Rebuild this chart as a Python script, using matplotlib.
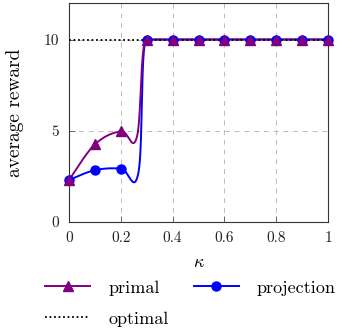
import numpy as np
import matplotlib
matplotlib.use("Agg")
import matplotlib.pyplot as plt
from matplotlib.lines import Line2D

plt.rcParams["font.family"] = ["cmr10", "DejaVu Serif"]
plt.rcParams["mathtext.fontset"] = "cm"
plt.rcParams["axes.formatter.use_mathtext"] = True

# ── data ─────────────────────────────────────────────────────────────────────
kappa = [0.0, 0.1, 0.2, 0.262, 0.3, 0.4, 0.5, 0.6, 0.7, 0.8, 0.9, 1.0]
primal = [2.3, 4.25, 4.97, 4.65, 10, 10, 10, 10, 10, 10, 10, 10]
kappa_proj = [0.0, 0.1, 0.2, 0.268, 0.3, 0.4, 0.5, 0.6, 0.7, 0.8, 0.9, 1.0]
projection = [2.3, 2.84, 2.93, 2.7, 10, 10, 10, 10, 10, 10, 10, 10]
optimal_x = [0.0, 1.0]
optimal = [10, 10]
# points drawn with a marker (the dip sample has none)
marked = [0, 1, 2, 4, 5, 6, 7, 8, 9, 10, 11]


def smooth(x, y, tension=0.55, n=60):
    """Cubic Bezier through the points; tangent flattened next to a plateau."""
    p = np.column_stack([x, y]).astype(float)
    m = len(p)
    tang = np.zeros_like(p)
    for i in range(m):
        a, b = p[max(i - 1, 0)], p[min(i + 1, m - 1)]
        tang[i] = (b - a) * tension / 3
        flat_l = i > 0 and p[i - 1, 1] == p[i, 1]
        flat_r = i < m - 1 and p[i + 1, 1] == p[i, 1]
        if flat_l or flat_r:
            tang[i, 1] = 0
    out = []
    for i in range(m - 1):
        p1, p2 = p[i], p[i + 1]
        c1 = p1 + tang[i]
        c2 = p2 - tang[i + 1]
        t = np.linspace(0, 1, n)[:, None]
        out.append((1 - t) ** 3 * p1 + 3 * (1 - t) ** 2 * t * c1
                   + 3 * (1 - t) * t ** 2 * c2 + t ** 3 * p2)
    seg = np.vstack(out)
    return seg[:, 0], seg[:, 1]


fig = plt.figure(figsize=(3.51, 3.36), dpi=100)
ax = fig.add_axes([69 / 351, 1 - 222 / 336, 259 / 351, 219 / 336])

purple = "#800080"
blue = "#0000ff"

sx, sy = smooth(kappa_proj, projection)
ax.plot(sx, sy, color=blue, lw=1.4, zorder=3)
sx, sy = smooth(kappa, primal)
ax.plot(sx, sy, color=purple, lw=1.4, zorder=4)
ax.plot(optimal_x, optimal, color="black", lw=1.3, ls=(0, (1, 1.5)), zorder=5)

ax.plot([kappa_proj[i] for i in marked], [projection[i] for i in marked],
        ls="none", marker="o", ms=6.5, color=blue, zorder=6, clip_on=False)
ax.plot([kappa[i] for i in marked], [primal[i] for i in marked],
        ls="none", marker="^", ms=6.5, color=purple, zorder=7, clip_on=False)

ax.set_xlim(0, 1)
ax.set_ylim(0, 12)
ax.set_xticks([0, 0.2, 0.4, 0.6, 0.8, 1])
ax.set_xticklabels(["0", "0.2", "0.4", "0.6", "0.8", "1"])
ax.set_yticks([0, 5, 10])
ax.set_yticklabels(["0", "5", "10"])
ax.tick_params(direction="in", length=4, width=0.6, color="#555555",
               labelsize=11, pad=7, labelcolor="#222222")
ax.grid(True, ls=(0, (5, 5)), color="#bbbbbb", lw=0.7)
ax.set_axisbelow(True)
for s in ax.spines.values():
    s.set_linewidth(0.8)
    s.set_color("#333333")

ax.set_xlabel(r"$\kappa$", fontsize=13, labelpad=7)
ax.set_ylabel("average reward", fontsize=14, labelpad=14)

handles = [
    Line2D([], [], color=purple, lw=1.4, marker="^", ms=6.5),
    Line2D([], [], color="black", lw=1.3, ls=(0, (1, 1.5))),
    Line2D([], [], color=blue, lw=1.4, marker="o", ms=6.5),
]
fig.legend(handles, ["primal", "optimal", "projection"], ncol=2,
           loc="upper left", bbox_to_anchor=(45 / 351, 1 - 280 / 336),
           frameon=False, fontsize=13, handlelength=2.5,
           columnspacing=1.4, handletextpad=1.0, labelspacing=0.85,
           borderpad=0, borderaxespad=0)

fig.savefig("out.png", dpi=100)
